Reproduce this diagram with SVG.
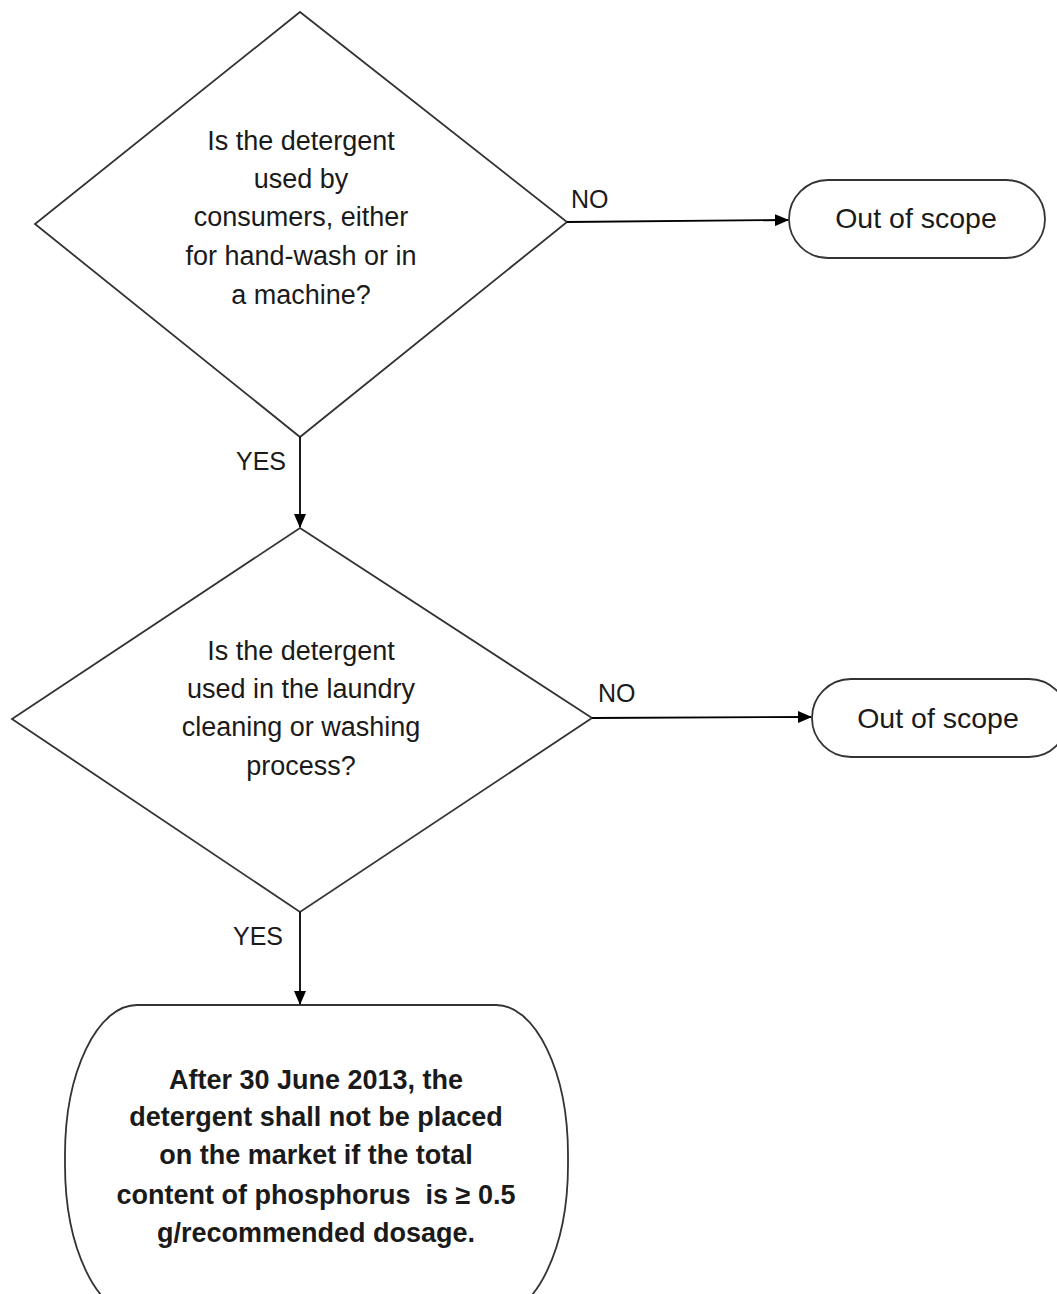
<svg xmlns="http://www.w3.org/2000/svg" width="1057" height="1294" viewBox="0 0 1057 1294">
<style>
.shape{fill:#fff;stroke:#333;stroke-width:1.8}
.t{font-family:"Liberation Sans",Arial,sans-serif;font-size:27px;fill:#1a1a1a;text-anchor:middle}
.o{font-size:28.5px}
.b{font-weight:bold;font-size:27px}
.lbl{font-family:"Liberation Sans",Arial,sans-serif;font-size:25px;fill:#1a1a1a}
.c{stroke:#000;stroke-width:1.8;fill:none}
</style>
<defs>
<marker id="ah" markerWidth="14" markerHeight="12" refX="13" refY="6" orient="auto" markerUnits="userSpaceOnUse">
<path d="M0,0 L14,6 L0,12 Z" fill="#000"/>
</marker>
</defs>
<rect width="1057" height="1294" fill="#fff"/>
<g id="q1">
<polygon class="shape" points="300,12 567,222 300,437 35,224"/>
<text class="t" x="301" y="150">Is the detergent</text>
<text class="t" x="301" y="188">used by</text>
<text class="t" x="301" y="226">consumers, either</text>
<text class="t" x="301" y="265">for hand-wash or in</text>
<text class="t" x="301" y="304">a machine?</text>
</g>
<g id="out1">
<rect class="shape" x="789" y="180" width="256" height="78" rx="39" ry="39"/>
<text class="t o" x="916" y="228">Out of scope</text>
</g>
<g id="q2">
<polygon class="shape" points="300,528 592,718 300,912 12,719"/>
<text class="t" x="301" y="660">Is the detergent</text>
<text class="t" x="301" y="698">used in the laundry</text>
<text class="t" x="301" y="736">cleaning or washing</text>
<text class="t" x="301" y="775">process?</text>
</g>
<g id="out2">
<rect class="shape" x="812" y="679" width="256" height="78" rx="39" ry="39"/>
<text class="t o" x="938" y="728">Out of scope</text>
</g>
<g id="result">
<rect class="shape" x="65" y="1005" width="503" height="310" rx="72" ry="150"/>
<text class="t b" x="316" y="1089">After 30 June 2013, the</text>
<text class="t b" x="316" y="1126">detergent shall not be placed</text>
<text class="t b" x="316" y="1164">on the market if the total</text>
<text class="t b" x="316" y="1204">content of phosphorus &#160;is ≥ 0.5</text>
<text class="t b" x="316" y="1242">g/recommended dosage.</text>
</g>
<g id="connectors">
<line class="c" x1="567" y1="222" x2="788" y2="220" marker-end="url(#ah)"/>
<line class="c" x1="300" y1="437" x2="300" y2="527" marker-end="url(#ah)"/>
<line class="c" x1="592" y1="718" x2="811" y2="717" marker-end="url(#ah)"/>
<line class="c" x1="300" y1="912" x2="300" y2="1004" marker-end="url(#ah)"/>
<text class="lbl" x="571" y="208">NO</text>
<text class="lbl" x="236" y="470">YES</text>
<text class="lbl" x="598" y="702">NO</text>
<text class="lbl" x="233" y="945">YES</text>
</g>
</svg>
